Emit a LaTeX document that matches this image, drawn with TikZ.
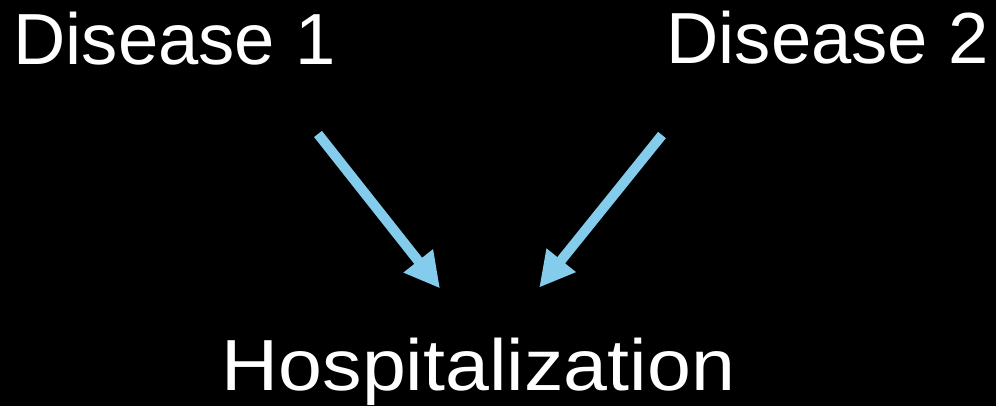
\documentclass[tikz,border=0pt]{standalone}
\usepackage{fontspec}
\setmainfont{Liberation Sans}
\usetikzlibrary{arrows.meta, positioning}
\definecolor{arrowblue}{RGB}{131,204,236}

\begin{document}
\begin{tikzpicture}[
    label/.style={text=white, inner sep=0pt, font=\fontsize{51.5pt}{60pt}\selectfont},
    widelabel/.style={label, xscale=1.09, transform shape},
    arrow/.style={-{Triangle[length=25pt, width=25pt]}, line width=7.1pt, arrowblue},
]

\fill[black] (0, 0) rectangle (24.9, 10.15);
\useasboundingbox (0, 0) rectangle (24.9, 10.15);

\node[label, anchor=base west] (dis1) at (0.33, 8.55) {Disease 1};
\node[label, anchor=base east] (dis2) at (24.72, 8.575) {Disease 2};
\node[widelabel, anchor=base] (hosp) at (11.96, 0.4) {Hospitalization};

% arrow ends
\coordinate (from1) at (7.95, 6.8);
\coordinate (to1) at (11.0, 2.94);
\coordinate (from2) at (16.55, 6.775);
\coordinate (to2) at (13.48, 2.96);

\draw[arrow] (from1) -- (to1);
\draw[arrow] (from2) -- (to2);

\end{tikzpicture}
\end{document}
